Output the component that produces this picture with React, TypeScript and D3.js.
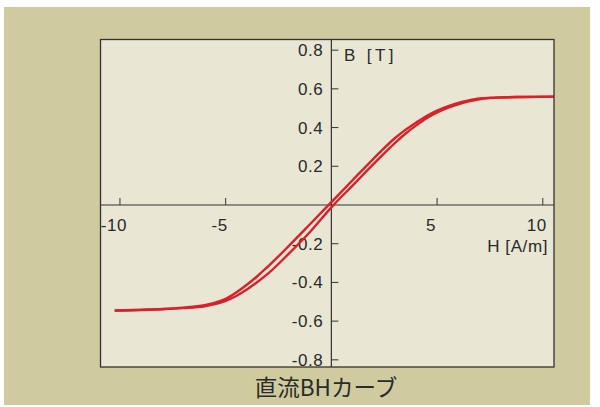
import React from "react";
import * as d3 from "d3";

// H [A/m] values and B [T] values of the two branches of the loop
const upperH = [10.6, 9, 8, 7.5, 7, 6.5, 6, 5.5, 5, 4.5, 4, 3.5, 3, 2, 1, 0, -1, -2, -3, -3.5, -4, -4.5, -5, -5.5, -6, -7, -8, -9, -10.25];
const upperB = [0.56, 0.558, 0.556, 0.554, 0.55, 0.54, 0.527, 0.51, 0.488, 0.46, 0.425, 0.388, 0.345, 0.24, 0.128, 0.015, -0.098, -0.21, -0.318, -0.368, -0.412, -0.452, -0.485, -0.505, -0.518, -0.53, -0.537, -0.541, -0.545];
const lowerH = [-10.25, -9, -8, -7, -6, -5.5, -5, -4.5, -4, -3.5, -3, -2, -1, 0, 1, 2, 3, 3.5, 4, 4.5, 5, 5.5, 6, 6.5, 7, 7.5, 8, 9, 10.6];
const lowerB = [-0.546, -0.543, -0.539, -0.533, -0.523, -0.512, -0.495, -0.47, -0.437, -0.398, -0.355, -0.25, -0.138, -0.012, 0.1, 0.212, 0.32, 0.368, 0.41, 0.448, 0.478, 0.502, 0.52, 0.535, 0.546, 0.552, 0.555, 0.558, 0.56];

const xTicks = [-10, -5, 5, 10];
const xTickLabels = ["-10", "-5", "5", "10"];
const yTicks = [0.8, 0.6, 0.4, 0.2, -0.2, -0.4, -0.6, -0.8];
const yTickLabels = ["0.8", "0.6", "0.4", "0.2", "-0.2", "-0.4", "-0.6", "-0.8"];

const title = "直流BHカーブ";
const xLabel = "H [A/m]";
const yLabel = "B [T]";

export default function App() {
  const W = 600, H = 407;
  const left = 100.5, right = 554, top = 39.5, bottom = 367;
  const x = d3.scaleLinear().domain([-10.92, 10.53]).range([left, right]);
  const y = d3.scaleLinear().domain([0.855, -0.837]).range([top, bottom]);
  const x0 = x(0), y0 = y(0);

  const line = d3.line<[number, number]>()
    .x(d => x(d[0]))
    .y(d => y(d[1]))
    .curve(d3.curveMonotoneX);

  const up: [number, number][] = upperH.map((h, i) => [h, upperB[i]] as [number, number]).reverse();
  const lo: [number, number][] = lowerH.map((h, i) => [h, lowerB[i]] as [number, number]);

  const textColor = "#2a2a2a";
  const font = "'Liberation Sans', Arial, sans-serif";
  const fs = 17;
  const ls = 0.6;

  return (
    <svg width={W} height={H} style={{ position: "absolute", left: 0, top: 0 }}>
      <rect x={0} y={0} width={W} height={H} fill="#ffffff" />
      <rect x={4} y={7} width={586} height={398} fill="#cfcb9f" />
      <defs>
        <clipPath id="plotclip">
          <rect x={left} y={top} width={right - left} height={bottom - top} />
        </clipPath>
      </defs>
      <rect x={left} y={top} width={right - left} height={bottom - top} fill="#e9e6d4" />
      <g clipPath="url(#plotclip)">
        <line x1={left} x2={right} y1={y0} y2={y0} stroke="#333" strokeWidth={1.2} />
        <line x1={x0} x2={x0} y1={top} y2={bottom} stroke="#333" strokeWidth={1.2} />
        {xTicks.map((t, i) => (
          <g key={"xt" + i}>
            <line x1={x(t)} x2={x(t)} y1={y0} y2={y0 - 7} stroke="#333" strokeWidth={1} />
            <text x={x(t) - 6} y={231} textAnchor="middle" fontSize={fs} letterSpacing={ls} fontFamily={font} fill={textColor}>
              {xTickLabels[i]}
            </text>
          </g>
        ))}
        {yTicks.map((t, i) => (
          <g key={"yt" + i}>
            <line x1={x0} x2={x0 + 7} y1={y(t)} y2={y(t)} stroke="#333" strokeWidth={1} />
            <text x={x0 - 8} y={y(t) + 6} textAnchor="end" fontSize={fs} letterSpacing={ls} fontFamily={font} fill={textColor}>
              {yTickLabels[i]}
            </text>
          </g>
        ))}
        <text x={344} y={60.5} fontSize={fs} fontFamily={font} fill={textColor} letterSpacing={3.4} style={{ whiteSpace: "pre" }}>
          {yLabel}
        </text>
        <text x={548} y={251.5} textAnchor="end" fontSize={fs} letterSpacing={ls} fontFamily={font} fill={textColor}>
          {xLabel}
        </text>
        <path d={line(up) || ""} fill="none" stroke="#d9212b" strokeWidth={2.4} />
        <path d={line(lo) || ""} fill="none" stroke="#d9212b" strokeWidth={2.4} />
      </g>
      <rect x={left} y={top} width={right - left} height={bottom - top} fill="none" stroke="#333" strokeWidth={1.3} />
      <text x={326} y={396} textAnchor="middle" fontSize={22.5} fontFamily="'Noto Sans CJK JP', sans-serif" fill={textColor}>
        {title}
      </text>
    </svg>
  );
}
